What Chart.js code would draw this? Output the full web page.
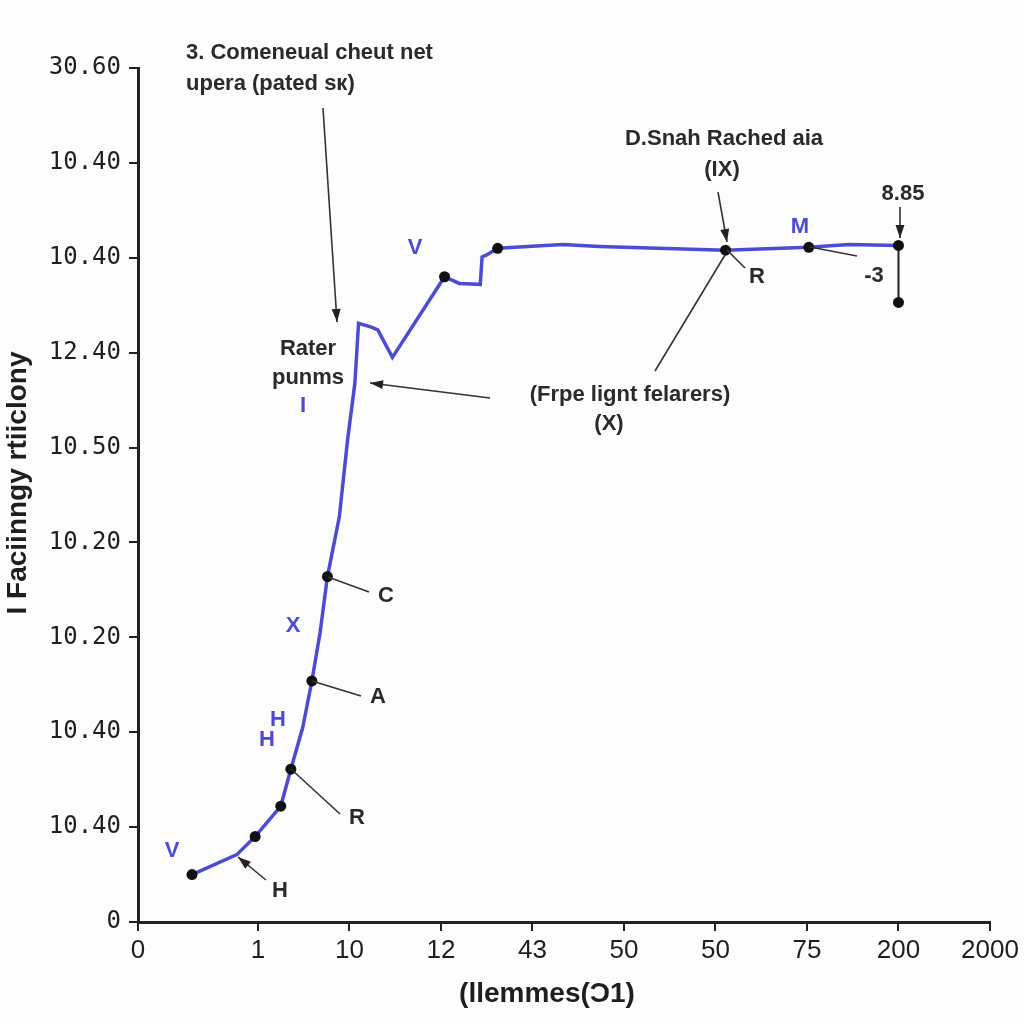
<!DOCTYPE html>
<html>
<head>
<meta charset="utf-8">
<script src="https://cdn.jsdelivr.net/npm/chart.js@4"></script>
<style>
  html, body { margin: 0; padding: 0; background: #fdfdfd; }
  #wrap { width: 1024px; height: 1024px; }
</style>
</head>
<body>
<div id="wrap"><canvas id="chart" width="1024" height="1024"></canvas></div>
<script>
// axis ticks
const xTickPos = [-0.31, 1, 2, 3, 4, 5, 6, 7, 8, 9];
const xTickLabels = ['0', '1', '10', '12', '43', '50', '50', '75', '200', '2000'];
const yTickLabels = ['0', '10.40', '10.40', '10.20', '10.20', '10.50', '12.40', '10.40', '10.40', '30.60'];

// main curve
const curveX = [0.28, 0.77, 0.97, 1.25, 1.36, 1.49, 1.59, 1.68, 1.76, 1.89, 1.98, 2.06, 2.10, 2.24, 2.31, 2.47,
                3.04, 3.20, 3.43, 3.45, 3.50, 3.62, 4.33, 4.73, 6.11, 7.02, 7.46, 8.00];
const curveY = [0.50, 0.71, 0.90, 1.22, 1.61, 2.05, 2.54, 3.05, 3.64, 4.27, 5.08, 5.68, 6.31, 6.27, 6.24, 5.95,
                6.80, 6.73, 6.72, 7.01, 7.03, 7.10, 7.14, 7.12, 7.08, 7.11, 7.14, 7.13];
const curveDot = [1, 0, 1, 1, 1, 0, 1, 0, 1, 0, 0, 0, 0, 0, 0, 0,
                  1, 0, 0, 0, 0, 1, 0, 0, 1, 1, 0, 1];

// drop at the end
const dropX = [8.00, 8.00];
const dropY = [7.13, 6.53];

const xTitle = '(llemmes(Ɔ1)';
const yTitle = 'I Faciinngy rtiiclony';

const BLUE = '#4b4bd6';
const INK = '#1e1e1e';
const NOTE_FONT = 'bold 22px "Liberation Sans", Arial, sans-serif';

const toPoints = (xs, ys) => xs.map((x, i) => ({ x: x, y: ys[i] }));

/**
 * Text labels, leader lines and arrows drawn on top of the chart
 */
const annotationPlugin = {
    id: 'annotations',
    afterDatasetsDraw(chart) {
        const ctx = chart.ctx;
        ctx.save();

        const text = (str, x, y, opts = {}) => {
            ctx.font = opts.font || NOTE_FONT;
            ctx.fillStyle = opts.color || '#2a2a2a';
            ctx.textAlign = opts.align || 'center';
            ctx.textBaseline = 'middle';
            ctx.fillText(str, x, y);
        };
        const line = (x1, y1, x2, y2, w = 1.6, color = '#333') => {
            ctx.strokeStyle = color;
            ctx.lineWidth = w;
            ctx.beginPath();
            ctx.moveTo(x1, y1);
            ctx.lineTo(x2, y2);
            ctx.stroke();
        };
        const arrow = (x1, y1, x2, y2, w = 1.6) => {
            line(x1, y1, x2, y2, w);
            const a = Math.atan2(y2 - y1, x2 - x1);
            const len = 13, half = 4.5;
            ctx.fillStyle = '#222';
            ctx.beginPath();
            ctx.moveTo(x2, y2);
            ctx.lineTo(x2 - len * Math.cos(a) + half * Math.sin(a), y2 - len * Math.sin(a) - half * Math.cos(a));
            ctx.lineTo(x2 - len * Math.cos(a) - half * Math.sin(a), y2 - len * Math.sin(a) + half * Math.cos(a));
            ctx.closePath();
            ctx.fill();
        };
        const blue = (str, x, y) => text(str, x, y, { color: BLUE, font: 'bold 22px "Liberation Sans", Arial, sans-serif' });

        // top-left note
        text('3. Comeneual cheut net', 186, 53, { align: 'left' });
        text('upera (pated sк)', 186, 84, { align: 'left' });
        arrow(323, 108, 337, 322);

        text('Rater', 308, 349);
        text('punms', 308, 378);
        blue('I', 303, 406);

        // middle note
        text('(Frpe lignt felarers)', 630, 395);
        text('(X)', 609, 424);
        arrow(490, 398, 370, 383);

        // blue letters along the curve
        blue('V', 415, 248);
        blue('X', 293, 626);
        blue('H', 278, 720);
        blue('H', 267, 740);
        blue('V', 172, 851);
        blue('M', 800, 227);

        // point letters
        line(328, 577, 369, 592);
        text('C', 386, 596);
        line(312, 681, 361, 696);
        text('A', 378, 697);
        line(291, 769, 340, 814);
        text('R', 357, 818);
        arrow(266, 880, 238, 857);
        text('H', 280, 891);

        // right note
        text('D.Snah Rached aia', 724, 139);
        text('(IX)', 722, 170);
        arrow(718, 192, 727, 242);
        line(727, 250, 745, 268);
        text('R', 757, 277);
        line(655, 371, 725, 255);

        line(810, 247, 857, 256);
        text('-3', 874, 276);

        text('8.85', 903, 194);
        arrow(900, 207, 900, 238);

        // axis titles
        const titleFont = 'bold 28px "Liberation Sans Narrow", "Liberation Sans", Arial, sans-serif';
        text(xTitle, 547, 994, { font: titleFont, color: INK });
        ctx.save();
        ctx.translate(18, 483);
        ctx.rotate(-Math.PI / 2);
        text(yTitle, 0, 0, { font: titleFont, color: INK });
        ctx.restore();

        ctx.restore();
    }
};

new Chart(document.getElementById('chart'), {
    type: 'line',
    data: {
        datasets: [
            {
                data: toPoints(curveX, curveY),
                borderColor: BLUE,
                borderWidth: 3.5,
                tension: 0,
                pointRadius: curveDot.map(d => d ? 5.5 : 0),
                pointBackgroundColor: '#111',
                pointBorderColor: '#111',
                pointBorderWidth: 0
            },
            {
                data: toPoints(dropX, dropY),
                borderColor: '#222',
                borderWidth: 2,
                pointRadius: [0, 5.5],
                pointBackgroundColor: '#111',
                pointBorderWidth: 0
            }
        ]
    },
    options: {
        responsive: false,
        animation: false,
        layout: { padding: { top: 68, right: 34, bottom: 0, left: 0 } },
        plugins: {
            legend: { display: false },
            tooltip: { enabled: false }
        },
        scales: {
            x: {
                type: 'linear',
                min: -0.31,
                max: 9,
                afterBuildTicks: (scale) => {
                    scale.ticks = xTickPos.map(v => ({ value: v }));
                },
                afterFit: (scale) => { scale.height = 102; },
                ticks: {
                    autoSkip: false,
                    maxRotation: 0,
                    padding: 4,
                    color: INK,
                    font: { family: '"Liberation Sans", Arial, sans-serif', size: 26 },
                    callback: (v, i) => xTickLabels[i]
                },
                grid: { drawOnChartArea: false, drawTicks: true, tickLength: 9, color: '#222', lineWidth: 2 },
                border: { display: true, color: '#222', width: 3 }
            },
            y: {
                type: 'linear',
                min: 0,
                max: 9,
                afterFit: (scale) => { scale.width = 138; },
                ticks: {
                    stepSize: 1,
                    padding: 8,
                    color: INK,
                    font: { family: '"DejaVu Sans Mono", monospace', size: 24 },
                    callback: (v) => yTickLabels[v]
                },
                grid: { drawOnChartArea: false, drawTicks: true, tickLength: 9, color: '#222', lineWidth: 2 },
                border: { display: true, color: '#222', width: 3 }
            }
        }
    },
    plugins: [annotationPlugin]
});
</script>
</body>
</html>
